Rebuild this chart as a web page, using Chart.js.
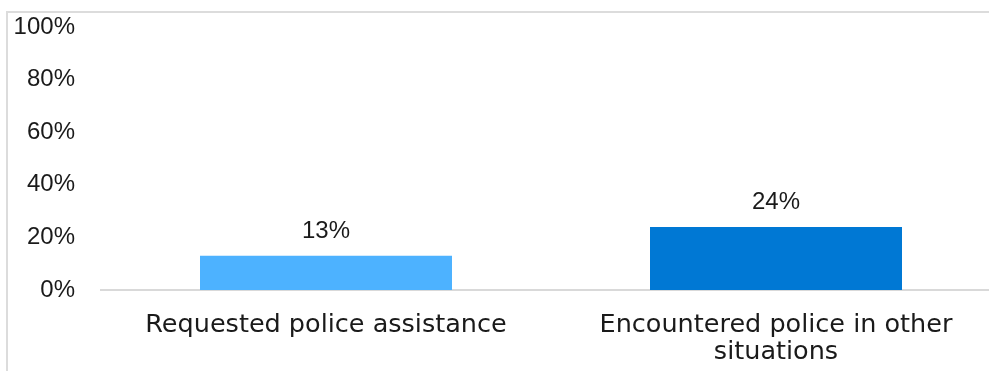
<!DOCTYPE html>
<html>
<head>
<meta charset="utf-8">
<script src="https://cdn.jsdelivr.net/npm/chart.js@4/dist/chart.umd.min.js"></script>
<style>
  html, body { margin: 0; padding: 0; background: #ffffff; overflow: hidden; }
  #wrap { position: absolute; left: 0; top: 0; width: 1010px; height: 371px; }
</style>
</head>
<body>
<div id="wrap"><canvas id="c" width="1010" height="371"></canvas></div>
<script>
const categories = ['Requested police assistance', ['Encountered police in other', 'situations']];
const values = [13, 24];
const barColors = ['#4db2ff', '#0078d4'];
const yMin = 0, yMax = 100, yStep = 20;

const NUM_FONT = 'Liberation Sans';
const CAT_FONT = 'DejaVu Sans';
const TEXT = '#1a1a1a';

const frame = {
  id: 'frame',
  beforeDraw(chart) {
    const ctx = chart.ctx;
    ctx.save();
    ctx.strokeStyle = '#dcdcdc';
    ctx.lineWidth = 2;
    ctx.beginPath();
    ctx.moveTo(7, 371); ctx.lineTo(7, 12); ctx.lineTo(chart.width, 12);
    ctx.stroke();
    ctx.restore();
  }
};

const barLabels = {
  id: 'barLabels',
  afterDatasetsDraw(chart) {
    const ctx = chart.ctx;
    const meta = chart.getDatasetMeta(0);
    ctx.save();
    ctx.font = '24px "' + NUM_FONT + '"';
    ctx.fillStyle = TEXT;
    ctx.textAlign = 'center';
    ctx.textBaseline = 'alphabetic';
    meta.data.forEach((bar, i) => {
      ctx.fillText(values[i] + '%', bar.x, bar.y - 18);
    });
    ctx.restore();
  }
};

new Chart(document.getElementById('c'), {
  type: 'bar',
  data: {
    labels: categories,
    datasets: [{
      data: values,
      backgroundColor: barColors,
      borderWidth: 0,
      barPercentage: 0.56,
      categoryPercentage: 1.0
    }]
  },
  options: {
    responsive: false,
    animation: false,
    layout: { padding: { top: 27, right: 9, left: 0, bottom: 0 } },
    plugins: { legend: { display: false }, tooltip: { enabled: false } },
    scales: {
      x: {
        grid: { display: false, drawTicks: false },
        border: { display: true, color: '#d9d9d9', width: 2 },
        ticks: {
          color: TEXT,
          font: { family: CAT_FONT, size: 25.5, lineHeight: '27px' },
          padding: 22,
          maxRotation: 0,
          autoSkip: false
        },
        afterFit(scale) { scale.height = 81; }
      },
      y: {
        min: yMin, max: yMax,
        grid: { display: false, drawTicks: false },
        border: { display: false },
        ticks: {
          stepSize: yStep,
          color: TEXT,
          padding: 26,
          font: { family: NUM_FONT, size: 24 },
          callback: v => v + '%'
        },
        afterFit(scale) {
          scale.width = 101;
          scale.paddingTop = 10;
          scale.paddingBottom = 10;
        }
      }
    }
  },
  plugins: [frame, barLabels]
});
</script>
</body>
</html>
